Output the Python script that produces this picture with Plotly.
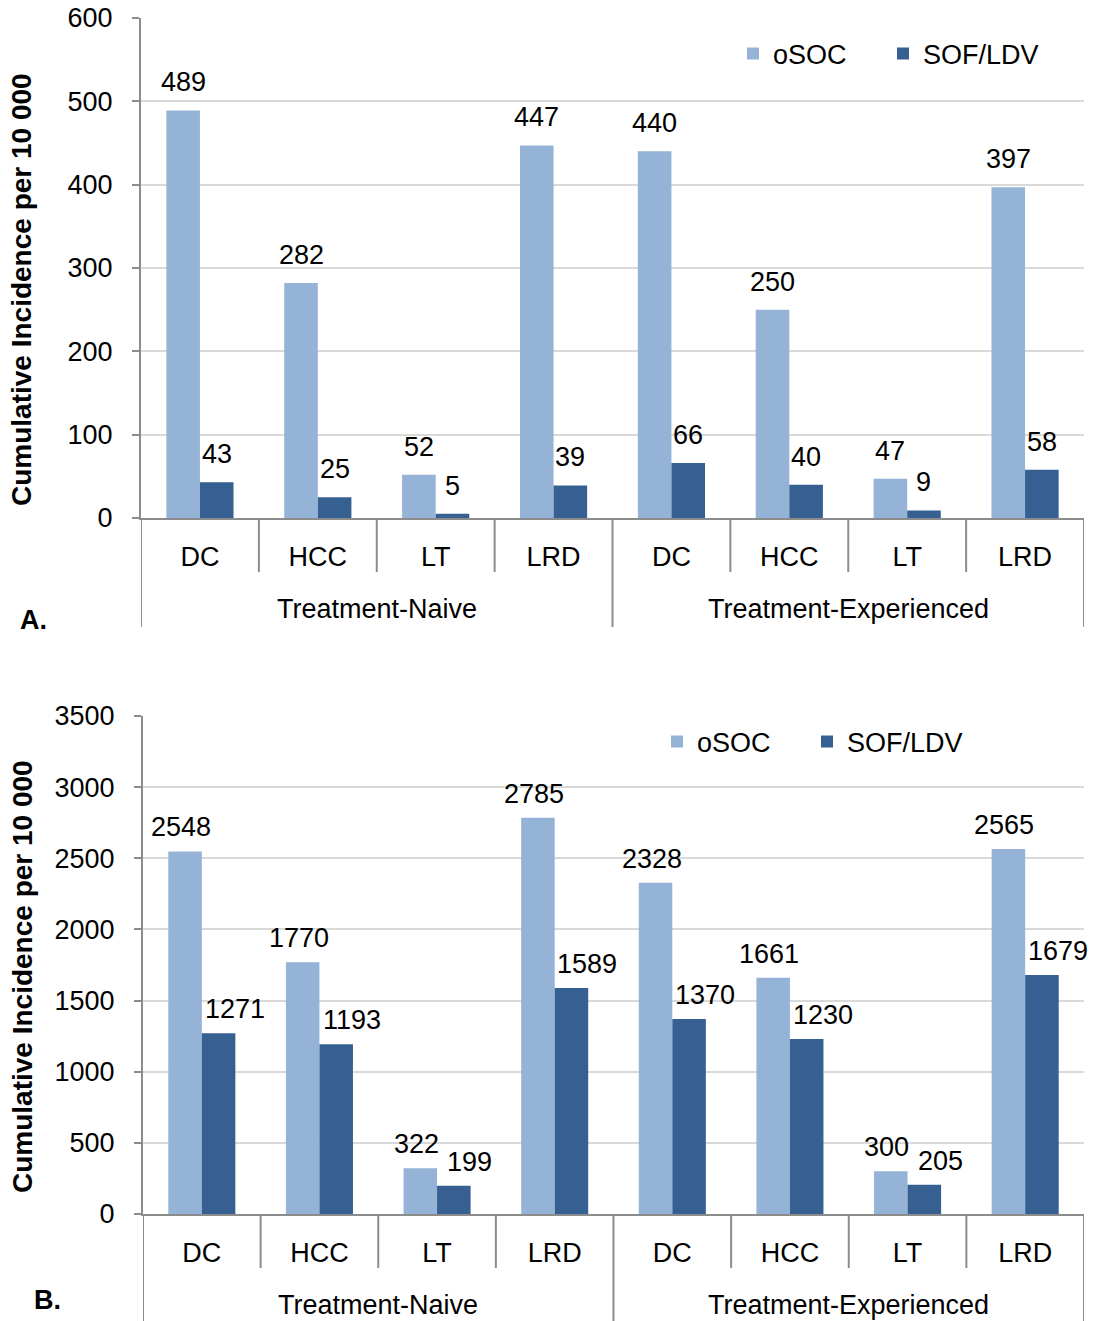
import plotly.graph_objects as go

groups = ["Treatment-Naive", "Treatment-Experienced"]
cats = ["DC", "HCC", "LT", "LRD", "DC", "HCC", "LT", "LRD"]
cat_group = [0, 0, 0, 0, 1, 1, 1, 1]
ids = [f"{groups[g]} {c}" for g, c in zip(cat_group, cats)]

a_osoc = [489, 282, 52, 447, 440, 250, 47, 397]
a_sof = [43, 25, 5, 39, 66, 40, 9, 58]
b_osoc = [2548, 1770, 322, 2785, 2328, 1661, 300, 2565]
b_sof = [1271, 1193, 199, 1589, 1370, 1230, 205, 1679]

C_LIGHT = "#95B3D7"
C_DARK = "#366092"
C_AXIS = "#8C8C8C"
FONT = "Liberation Sans, Arial, sans-serif"
FS = 27
BARGAP = 0.43

W, H = 1105, 1321


def px(x):
    return x / W


def py(y):
    return 1 - y / H


# per panel settings (pixel positions in the 1105x1321 page)
panels = [
    dict(xa="x", ya="y", xl=141, top=18, bot=518, ymax=600, dt=100, ly=54,
         ty=290, longlen=109, lab="A.", labx=18, laby=620,
         series=[(a_osoc, "oSOC", C_LIGHT, "legend", 733, 0),
                 (a_sof, "SOF/LDV", C_DARK, "legend2", 883, 0)],
         label_lift=28),
    dict(xa="x2", ya="y2", xl=143, top=716, bot=1214, ymax=3500, dt=500, ly=742,
         ty=977, longlen=120, lab="B.", labx=32, laby=1300,
         series=[(b_osoc, "oSOC", C_LIGHT, "legend3", 657, -4),
                 (b_sof, "SOF/LDV", C_DARK, "legend4", 807, 16)],
         label_lift=24),
]

xcommon = dict(
    type="category", categoryarray=ids, tickvals=ids, ticktext=cats,
    range=[-0.5, len(ids) - 0.5],
    showline=True, linecolor=C_AXIS, linewidth=2, ticks="",
    tickfont=dict(size=FS, color="black", family=FONT), automargin=False,
    showgrid=False, ticklabelstandoff=14,
)
ycommon = dict(
    showline=True, linecolor=C_AXIS, linewidth=2, ticks="outside",
    ticklen=7, tickcolor=C_AXIS, tickwidth=2, showgrid=True,
    gridcolor="#D9D9D9", gridwidth=1.5, zeroline=False,
    tickfont=dict(size=FS, color="black", family=FONT), automargin=False,
    ticklabelstandoff=14, ticklabeloverflow="allow",
)

fig = go.Figure()
layout = dict(
    width=W, height=H, margin=dict(l=0, r=0, t=0, b=0),
    paper_bgcolor="white", plot_bgcolor="white",
    barmode="group", bargap=BARGAP, bargroupgap=0, showlegend=True,
    font=dict(family=FONT, color="black"),
)
shapes = []
annotations = []
for p in panels:
    xa, ya = p["xa"], p["ya"]
    xkey = "xaxis" + xa[1:]
    ykey = "yaxis" + ya[1:]
    ph = p["bot"] - p["top"]
    pw = 1084 - p["xl"]
    layout[xkey] = dict(domain=[px(p["xl"]), px(1084)], anchor=ya, **xcommon)
    layout[ykey] = dict(domain=[py(p["bot"]), py(p["top"])], anchor=xa,
                        range=[0, p["ymax"]], dtick=p["dt"], **ycommon)

    n_series = len(p["series"])
    bar_w = pw / len(ids) * (1 - BARGAP) / n_series
    for si, (vals, name, color, legname, legx, nudge) in enumerate(p["series"]):
        fig.add_trace(go.Bar(
            x=ids, y=vals, name=name, marker_color=color,
            marker_line_width=0, xaxis=xa, yaxis=ya, legend=legname,
            showlegend=True,
        ))
        layout[legname] = dict(
            orientation="h", x=px(legx), y=py(p["ly"]), xanchor="left",
            yanchor="middle", font=dict(size=FS, color="black", family=FONT),
            bgcolor="rgba(0,0,0,0)", itemwidth=30, visible=True,
        )
        # value labels above each bar
        offset = (si - (n_series - 1) / 2) * bar_w + nudge
        for cid, v in zip(ids, vals):
            annotations.append(dict(
                text=str(v), xref=xa, yref=ya, x=cid, y=v, xshift=offset,
                yshift=p["label_lift"], xanchor="center", yanchor="middle",
                showarrow=False, font=dict(size=FS, color="black", family=FONT)))

    yref = ya + " domain"
    # dividers between categories
    for i in range(len(ids) + 1):
        b = i - 0.5
        is_group = i in (0, 4, len(ids))
        length = p["longlen"] if is_group else 54
        shapes.append(dict(type="line", xref=xa, yref=yref, x0=b, x1=b,
                           y0=0, y1=-length / ph,
                           line=dict(color=C_AXIS, width=2)))
    # group labels
    for gi, g in enumerate(groups):
        annotations.append(dict(
            text=g, xref=xa, yref=yref, x=gi * 4 + 1.5, y=-91 / ph,
            xanchor="center", yanchor="middle", showarrow=False,
            font=dict(size=FS, color="black", family=FONT)))
    # y-axis title
    annotations.append(dict(
        text="<b>Cumulative Incidence per 10 000</b>", textangle=-90,
        xref="paper", yref="paper", x=px(22), y=py(p["ty"]), xanchor="center",
        yanchor="middle", showarrow=False,
        font=dict(size=28, color="black", family=FONT)))
    # panel letter
    annotations.append(dict(
        text=f"<b>{p['lab']}</b>", x=px(p["labx"]), y=py(p["laby"]),
        xref="paper", yref="paper", xanchor="left", yanchor="middle",
        showarrow=False, font=dict(size=FS, color="black", family=FONT)))

layout["shapes"] = shapes
layout["annotations"] = annotations
fig.update_layout(**layout)

fig.write_html("out.html", config={"displayModeBar": False},
               post_script="document.body.style.margin='0px';")
